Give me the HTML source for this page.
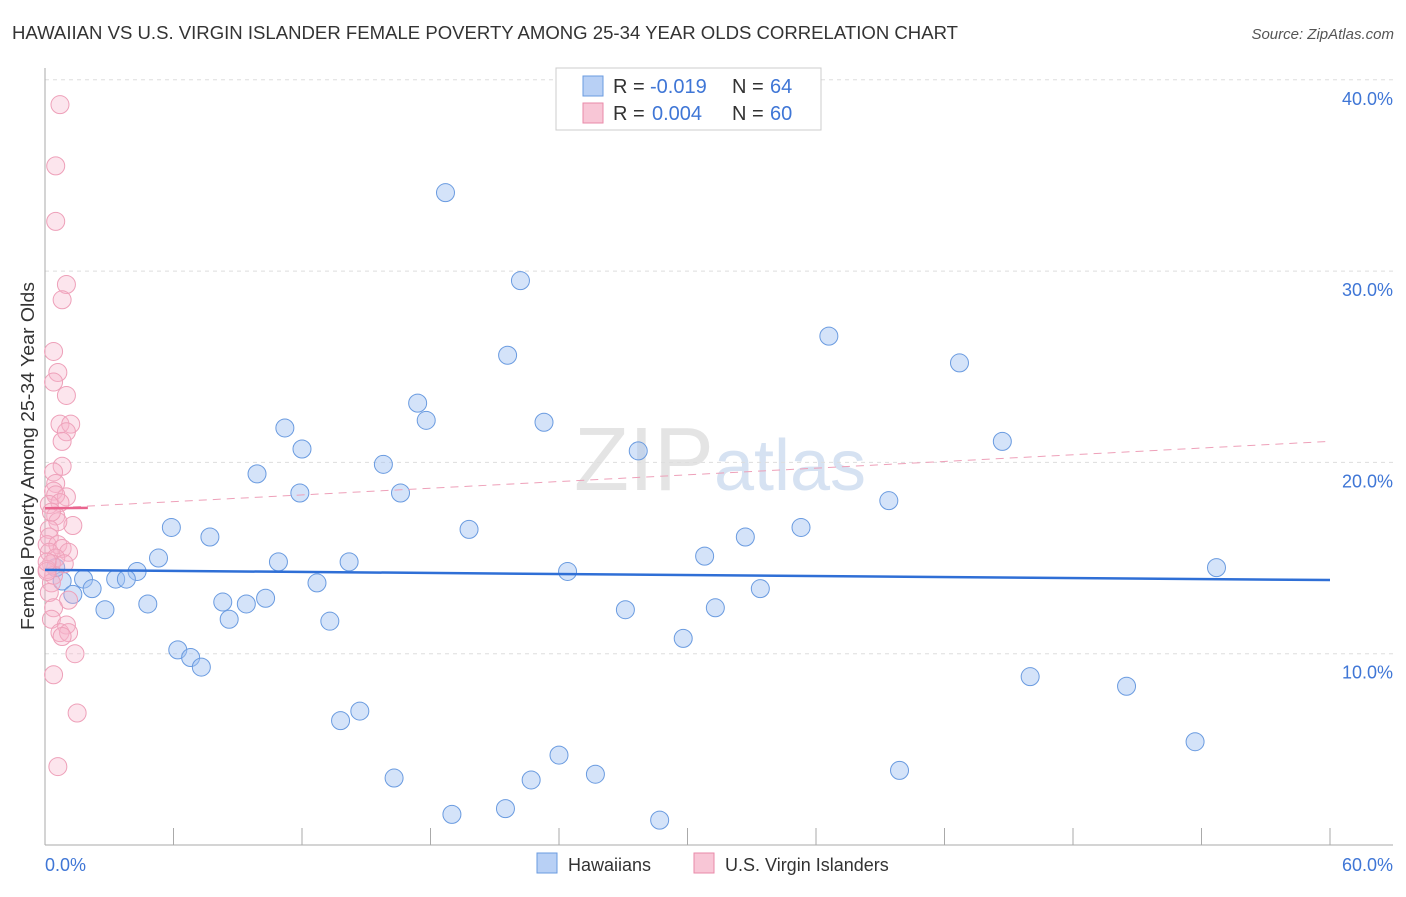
<!DOCTYPE html>
<html><head><meta charset="utf-8"><style>
body{margin:0;background:#fff;font-family:"Liberation Sans",sans-serif;}
svg text{font-family:"Liberation Sans",sans-serif;}
</style></head><body>
<svg id="chart" width="1406" height="892" xmlns="http://www.w3.org/2000/svg">
<text x="12" y="39" font-size="18" fill="#333" textLength="946" lengthAdjust="spacingAndGlyphs">HAWAIIAN VS U.S. VIRGIN ISLANDER FEMALE POVERTY AMONG 25-34 YEAR OLDS CORRELATION CHART</text>
<text x="1394" y="39" font-size="15" fill="#555" text-anchor="end" font-style="italic">Source: ZipAtlas.com</text>
<text x="720" y="490" font-size="90" fill="#e4e4e4" text-anchor="middle" font-family="Liberation Serif">ZIP<tspan fill="#d6e2f2" font-family="Liberation Sans" font-size="72">atlas</tspan></text>
<g id="grid"></g>
<g id="axes"></g>
<g id="pts"></g>
<g id="trend"></g>
<text transform="translate(34,456) rotate(-90)" font-size="18" fill="#333" text-anchor="middle" textLength="348" lengthAdjust="spacingAndGlyphs">Female Poverty Among 25-34 Year Olds</text>
<text x="45" y="871" font-size="18" fill="#3f76d6">0.0%</text>
<text x="1393" y="871" font-size="18" fill="#3f76d6" text-anchor="end">60.0%</text>
<g>
<rect x="556" y="68" width="265" height="62" fill="#fff" stroke="#ccc"/>
<rect x="583" y="76" width="20" height="20" fill="#b8d0f5" stroke="#6a9be0"/>
<rect x="583" y="103" width="20" height="20" fill="#f8c6d6" stroke="#e98aa8"/>
<text x="613" y="93" font-size="20" fill="#333">R =</text>
<text x="650" y="93" font-size="20" fill="#3f76d6">-0.019</text>
<text x="732" y="93" font-size="20" fill="#333">N =</text>
<text x="770" y="93" font-size="20" fill="#3f76d6">64</text>
<text x="613" y="120" font-size="20" fill="#333">R =</text>
<text x="652" y="120" font-size="20" fill="#3f76d6">0.004</text>
<text x="732" y="120" font-size="20" fill="#333">N =</text>
<text x="770" y="120" font-size="20" fill="#3f76d6">60</text>
</g>
<g>
<rect x="537" y="853" width="20" height="20" fill="#b8d0f5" stroke="#6a9be0"/>
<text x="568" y="871" font-size="18" fill="#333">Hawaiians</text>
<rect x="694" y="853" width="20" height="20" fill="#f8c6d6" stroke="#e98aa8"/>
<text x="725" y="871" font-size="18" fill="#333">U.S. Virgin Islanders</text>
</g>
</svg>
<script>
const yTicks=[10,20,30,40];
const yTickLabels=["10.0%","20.0%","30.0%","40.0%"];
const xTicks=[6,12,18,24,30,36,42,48,54,60];
const hawX=[18.7,22.2,21.6,36.6,42.7,17.4,17.8,23.3,11.2,12.0,27.7,44.7,15.8,9.9,11.9,16.6,39.4,5.9,19.8,35.3,7.7,32.7,5.3,10.9,14.2,30.8,54.7,4.3,24.4,1.8,3.3,3.8,0.8,0.5,2.2,12.7,33.4,1.3,4.8,8.3,9.4,10.3,2.8,27.1,31.3,8.6,13.3,29.8,6.2,6.8,7.3,46.0,50.5,14.7,13.8,24.0,53.7,16.3,22.7,25.7,39.9,21.5,19.0,28.7];
const hawY=[34.1,29.5,25.6,26.6,25.2,23.1,22.2,22.1,21.8,20.7,20.6,21.1,19.9,19.4,18.4,18.4,18.0,16.6,16.5,16.6,16.1,16.1,15.0,14.8,14.8,15.1,14.5,14.3,14.3,13.9,13.9,13.9,13.8,14.5,13.4,13.7,13.4,13.1,12.6,12.7,12.6,12.9,12.3,12.3,12.4,11.8,11.7,10.8,10.2,9.8,9.3,8.8,8.3,7.0,6.5,4.7,5.4,3.5,3.4,3.7,3.9,1.9,1.6,1.3];
const virX=[0.7,0.5,0.5,1.0,0.8,0.4,0.6,0.4,1.0,0.7,1.2,1.0,0.8,0.8,0.4,0.5,0.4,1.0,0.5,0.7,0.2,0.5,1.3,0.6,0.2,0.2,0.1,0.6,0.8,1.1,0.2,0.5,0.3,0.1,0.9,0.4,0.3,0.2,1.1,0.4,0.3,1.0,0.7,1.1,0.8,1.4,0.4,1.5,0.6,0.1,0.3,0.1];
const virY=[38.7,35.5,32.6,29.3,28.5,25.8,24.7,24.2,23.5,22.0,22.0,21.6,21.1,19.8,19.5,18.9,18.5,18.2,18.3,17.9,17.8,17.2,16.7,16.9,16.5,16.1,15.7,15.7,15.5,15.3,15.3,15.0,14.7,14.4,14.7,14.1,13.7,13.2,12.8,12.4,11.8,11.5,11.1,11.1,10.9,10.0,8.9,6.9,4.1,14.3,17.4,14.8];
const hawTrend=[14.38,13.85];
const virTrendSolid=[17.6,17.62];
const virTrendDash=[17.6,21.1];
const X=v=>45+v/60*1285, Y=v=>845-v*19.13;
const NS="http://www.w3.org/2000/svg";
function mk(g,t,a){const e=document.createElementNS(NS,t);for(const k in a)e.setAttribute(k,a[k]);document.getElementById(g).appendChild(e);return e;}
yTicks.forEach((t,i)=>{
const l=mk('grid','line',{x1:45,x2:1393,y1:Y(t),y2:Y(t),stroke:'#ddd','stroke-dasharray':'4,4'});


const tx=mk('grid','text',{x:1393,y:Y(t)+25,'font-size':18,fill:'#3f76d6','text-anchor':'end'});tx.textContent=yTickLabels[i];


});
let a=mk('axes','line',{x1:45,x2:45,y1:68,y2:845,stroke:'#aaa'});


a=mk('axes','line',{x1:45,x2:1393,y1:845,y2:845,stroke:'#aaa'});


xTicks.forEach(t=>{const e=mk('axes','line',{x1:X(t),x2:X(t),y1:828,y2:845,stroke:'#aaa'});

});
hawX.forEach((x,i)=>{const c=mk('pts','circle',{cx:X(x),cy:Y(hawY[i]),r:9,fill:'rgba(160,192,242,0.45)',stroke:'#6a9be0','stroke-width':1});

});
virX.forEach((x,i)=>{const c=mk('pts','circle',{cx:X(x),cy:Y(virY[i]),r:9,fill:'rgba(246,180,204,0.35)',stroke:'#eea0b9','stroke-width':1});

});
let t=mk('trend','line',{x1:X(0),x2:X(60),y1:Y(virTrendDash[0]),y2:Y(virTrendDash[1]),stroke:'#eea0b9','stroke-dasharray':'8,6','stroke-width':1});


t=mk('trend','line',{x1:X(0),x2:X(2),y1:Y(virTrendSolid[0]),y2:Y(virTrendSolid[1]),stroke:'#e9648e','stroke-width':2.5});


t=mk('trend','line',{x1:X(0),x2:X(60),y1:Y(hawTrend[0]),y2:Y(hawTrend[1]),stroke:'#2f6fd6','stroke-width':2.5});


</script>
</body></html>
